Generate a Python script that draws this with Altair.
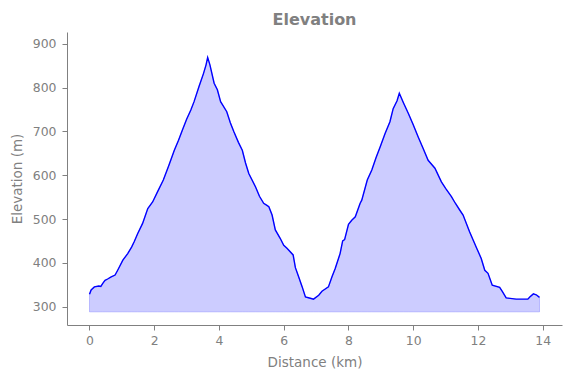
import altair as alt
import pandas as pd

distance_km = [0.00, 0.05, 0.15, 0.29, 0.35, 0.41, 0.48, 0.56, 0.67, 0.79, 0.87, 1.03,
               1.18, 1.30, 1.38, 1.49, 1.64, 1.80, 1.95, 2.10, 2.28, 2.45, 2.62, 2.75,
               2.87, 3.00, 3.13, 3.23, 3.38, 3.52, 3.60, 3.65, 3.72, 3.85, 3.95, 4.05,
               4.24, 4.35, 4.46, 4.60, 4.72, 4.82, 4.92, 5.13, 5.25, 5.38, 5.48, 5.54,
               5.64, 5.74, 5.89, 6.00, 6.10, 6.29, 6.36, 6.46, 6.57, 6.67, 6.82, 6.92,
               7.08, 7.18, 7.38, 7.49, 7.59, 7.74, 7.82, 7.88, 8.00, 8.10, 8.21, 8.36,
               8.41, 8.58, 8.72, 8.85, 8.98, 9.13, 9.28, 9.38, 9.50, 9.57, 9.70, 9.85,
               10.00, 10.15, 10.30, 10.46, 10.67, 10.87, 11.00, 11.18, 11.30, 11.44,
               11.54, 11.74, 11.85, 11.95, 12.10, 12.21, 12.31, 12.44, 12.67, 12.75,
               12.87, 13.18, 13.54, 13.60, 13.71, 13.80, 13.90]
elevation_m = [328, 338, 345, 347, 346, 353, 360, 363, 368, 372, 383, 406,
               421, 436, 448, 467, 490, 524, 539, 562, 589, 622, 657, 680,
               703, 728, 749, 768, 802, 832, 852, 869, 852, 810, 795, 768,
               745, 720, 699, 675, 657, 628, 604, 573, 552, 536, 531, 528,
               509, 475, 456, 440, 433, 418, 389, 368, 345, 322, 319, 317,
               326, 335, 345, 368, 387, 421, 450, 453, 488, 497, 505, 536,
               543, 589, 612, 640, 665, 695, 722, 752, 770, 787, 765, 741,
               715, 688, 662, 634, 616, 585, 570, 551, 536, 520,
               509, 471, 452, 435, 410, 383, 376, 349, 344, 335,
               320, 317, 317, 322, 329, 327, 321]
fill_base_m = 288
x_ticks = [0, 2, 4, 6, 8, 10, 12, 14]
y_ticks = [300, 400, 500, 600, 700, 800, 900]

df = pd.DataFrame({"distance": distance_km, "elevation": elevation_m})
df["base"] = fill_base_m

gray = "#808080"
font = "DejaVu Sans"

x = alt.X("distance:Q", title="Distance (km)",
          scale=alt.Scale(domain=[-0.695, 14.595], nice=False, zero=False),
          axis=alt.Axis(values=x_ticks, labelPadding=4, titlePadding=9))
y = alt.Y("elevation:Q", title="Elevation (m)",
          scale=alt.Scale(domain=[258, 927], nice=False, zero=False),
          axis=alt.Axis(values=y_ticks, labelPadding=6, titlePadding=8))

area = alt.Chart(df).mark_area(
    color="blue", fillOpacity=0.2, stroke="blue", strokeOpacity=0.2, strokeWidth=1
).encode(x=x, y=y, y2="base:Q")
line = alt.Chart(df).mark_line(color="blue", strokeWidth=1.4).encode(x=x, y=y)

chart = (area + line).properties(
    width=495, height=293,
    title=alt.TitleParams("Elevation", font=font, fontSize=16, fontWeight="bold",
                          color=gray, anchor="middle", baseline="alphabetic", offset=-9),
    padding={"left": 67, "top": 32, "right": 9, "bottom": 53},
    autosize=alt.AutoSizeParams(type="none"),
).configure_view(stroke=None).configure_axis(
    grid=False, domainColor=gray, tickColor=gray, tickSize=5, domainWidth=1,
    labelColor=gray, titleColor=gray, labelFont=font, titleFont=font,
    labelFontSize=12.4, titleFontSize=13.5, titleFontWeight="normal",
)

chart.save("out.html", embed_options={"renderer": "svg", "actions": False})
